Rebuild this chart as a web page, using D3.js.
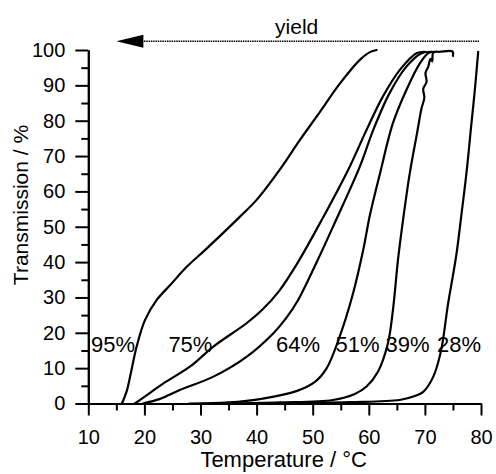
<!DOCTYPE html>
<html>
<head>
<meta charset="utf-8">
<script src="https://cdn.jsdelivr.net/npm/d3@7"></script>
<style>
  html, body { margin: 0; padding: 0; background: #fff; }
  svg { display: block; }
  text { font-family: "Liberation Sans", Arial, Helvetica, sans-serif; fill: #000; }
</style>
</head>
<body>
<svg id="chart" width="496" height="474"></svg>
<script>
// Transmission (%) vs temperature (°C) for each yield
const yieldLabels = ["95%", "75%", "64%", "51%", "39%", "28%"];
const labelTemps = [14.4, 28.2, 47.4, 58.0, 66.9, 76.1];
const labelLevel = 14.5;

const curve95 = [[16.0,0],[16.9,3.8],[17.7,9.5],[18.6,16.0],[20.1,23.6],[22.2,29.3],[24.6,33.5],[27.5,38.6],[30.8,43.4],[34.0,48.2],[37.0,52.8],[40.0,57.6],[44.1,66.1],[47.7,74.5],[51.3,82.5],[54.8,90.4],[58.4,97.2],[60.2,99.4],[61.4,100]];
const curve75 = [[18.3,0],[21.0,3.0],[23.4,5.7],[28.1,10.4],[32.3,16.1],[38.2,22.7],[41.0,26.5],[44.0,31.8],[47.2,39.5],[51.6,51.9],[56.6,67.0],[59.6,77.4],[62.5,86.8],[65.5,94.3],[68.5,99.1],[70.0,99.5]];
const curve64 = [[19.7,0],[22.8,1.3],[26.3,3.8],[32.3,7.6],[38.2,13.2],[43.0,19.9],[45.2,24.0],[47.3,29.0],[50.6,39.6],[53.9,51.0],[58.4,67.0],[60.8,77.4],[63.7,87.8],[66.7,95.3],[69.4,99.1],[71.2,99.5]];
const curve51 = [[28.0,0],[35.0,0.3],[41.1,1.4],[47.1,3.5],[50.4,6.1],[52.5,10.0],[54.8,18.9],[57.2,31.2],[59.0,43.4],[60.2,53.3],[62.0,65.1],[64.3,79.3],[66.7,88.7],[69.1,96.2],[70.6,99.1],[71.5,99.5]];
const curve39 = [[35.0,0],[44.1,0.3],[53.6,1.0],[57.5,2.7],[59.6,4.8],[61.6,8.9],[63.4,17.0],[64.3,26.4],[65.2,40.6],[66.1,51.9],[67.3,65.1],[68.6,76.5],[69.4,83.5],[69.9,86.5],[69.7,89.0],[70.3,91.0],[70.1,93.5],[70.6,95.3],[71.0,97.5],[71.3,96.8],[71.5,99.3],[72.7,99.5],[74.9,99.6],[75.0,98.3]];
const curve28 = [[40.0,0],[50.0,0.2],[56.6,0.4],[65.5,1.0],[68.2,2.1],[69.7,3.3],[71.5,7.6],[72.9,15.1],[74.1,27.9],[75.6,42.0],[76.5,53.3],[77.4,65.1],[78.3,79.3],[78.9,88.7],[79.5,99.5]];
const curves = [curve95, curve75, curve64, curve51, curve39, curve28];

const xMajorTicks = [10, 20, 30, 40, 50, 60, 70, 80];
const yMajorTicks = [0, 10, 20, 30, 40, 50, 60, 70, 80, 90, 100];
const xMinorTicks = [15, 25, 35, 45, 55, 65, 75];
const yMinorTicks = [5, 15, 25, 35, 45, 55, 65, 75, 85, 95];

const xTitle = "Temperature / °C";
const yTitle = "Transmission / %";
const arrowText = "yield";
const arrowFrom = 80, arrowTo = 15, arrowLevel = 102.5;

const svg = d3.select("#chart");
const x = d3.scaleLinear().domain([10, 80]).range([88.3, 481]);
const y = d3.scaleLinear().domain([0, 100]).range([403.5, 50]);

// axes: major ticks with labels, minor ticks without
function styleAxis(g) {
  g.selectAll(".domain").attr("stroke", "#000").attr("stroke-width", 2);
  g.selectAll(".tick line").attr("stroke", "#000").attr("stroke-width", 2);
  g.selectAll("text").style("font-size", "20px");
}
const xAxisMajor = svg.append("g").attr("transform", `translate(0,${y(0)})`)
  .call(d3.axisBottom(x).tickValues(xMajorTicks).tickSize(12).tickPadding(14).tickSizeOuter(0));
styleAxis(xAxisMajor);
const xAxisMinor = svg.append("g").attr("transform", `translate(0,${y(0)})`)
  .call(d3.axisBottom(x).tickValues(xMinorTicks).tickSize(7).tickFormat("").tickSizeOuter(0));
styleAxis(xAxisMinor);
const yAxisMajor = svg.append("g").attr("transform", `translate(${x(10)},0)`)
  .call(d3.axisLeft(y).tickValues(yMajorTicks).tickSize(13).tickPadding(10).tickSizeOuter(0));
styleAxis(yAxisMajor);
const yAxisMinor = svg.append("g").attr("transform", `translate(${x(10)},0)`)
  .call(d3.axisLeft(y).tickValues(yMinorTicks).tickSize(7).tickFormat("").tickSizeOuter(0));
styleAxis(yAxisMinor);

// axis titles
svg.append("text").attr("x", (x(10) + x(80)) / 2 - 1).attr("y", 467)
  .attr("text-anchor", "middle").style("font-size", "22px").text(xTitle);
svg.append("text").attr("transform", `translate(28,205) rotate(-90)`)
  .attr("text-anchor", "middle").style("font-size", "21px").text(yTitle);

// transmission curves
const line = d3.line().x(d => x(d[0])).y(d => y(d[1])).curve(d3.curveCatmullRom.alpha(0.5));
svg.append("g").selectAll("path").data(curves).join("path")
  .attr("d", line).attr("fill", "none").attr("stroke", "#000")
  .attr("stroke-width", 2.2).attr("stroke-linejoin", "round").attr("stroke-linecap", "round");

// yield labels
svg.append("g").selectAll("text").data(yieldLabels).join("text")
  .attr("x", (d, i) => x(labelTemps[i])).attr("y", y(labelLevel))
  .attr("text-anchor", "middle").style("font-size", "22px").text(d => d);

// yield arrow
const arrowY = y(arrowLevel);
svg.append("line").attr("x1", x(arrowFrom) - 2).attr("x2", x(arrowTo) + 26)
  .attr("y1", arrowY).attr("y2", arrowY)
  .attr("stroke", "#000").attr("stroke-width", 1.5).attr("stroke-dasharray", "1.5,0.8");
svg.append("path")
  .attr("d", `M${x(arrowTo)},${arrowY} L${x(arrowTo) + 27},${arrowY - 6.5} L${x(arrowTo) + 27},${arrowY + 6.5} Z`)
  .attr("fill", "#000");
svg.append("text").attr("x", (x(arrowFrom) + x(arrowTo)) / 2 - 2).attr("y", arrowY - 7)
  .attr("text-anchor", "middle").style("font-size", "21px").text(arrowText);
</script>
</body>
</html>
